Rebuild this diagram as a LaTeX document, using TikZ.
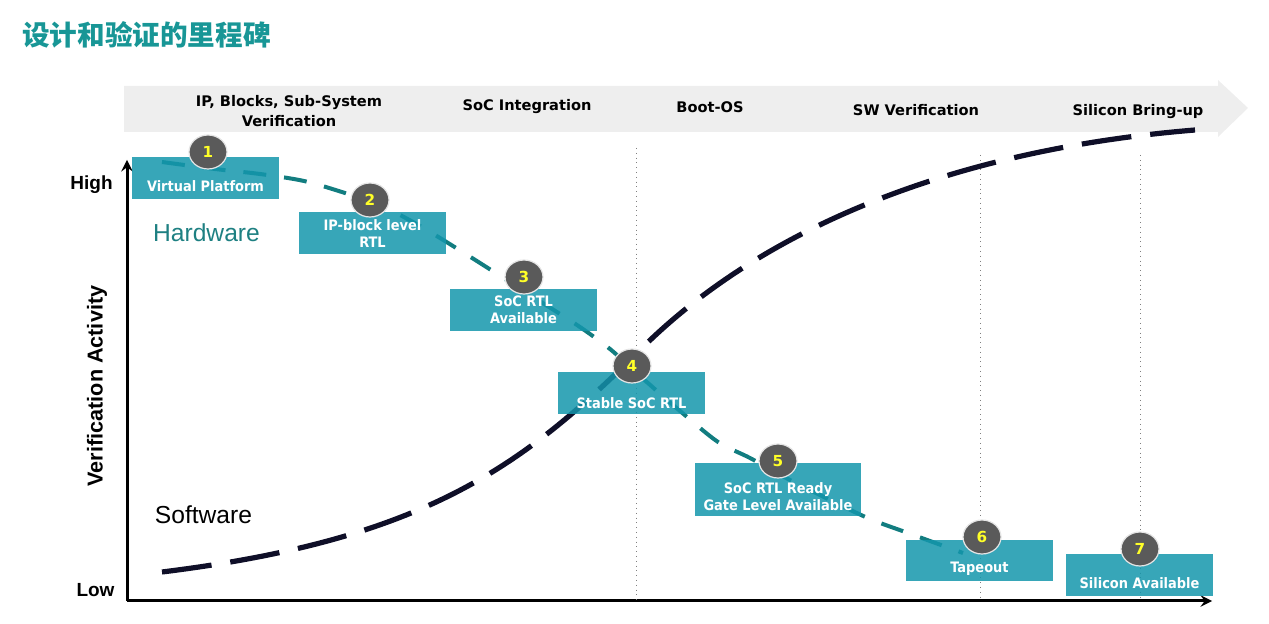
\documentclass[tikz,border=0pt]{standalone}
\usepackage{fontspec}
\usetikzlibrary{positioning,shapes.geometric,arrows,calc}

\newfontfamily\cjkfont{Noto Sans CJK SC}
\newfontfamily\phasefont{DejaVu Sans}
\newfontfamily\boxfont{DejaVu Sans Condensed}
\newfontfamily\axisfont{Liberation Sans}

\definecolor{titleteal}{RGB}{24,150,150}
\definecolor{hwteal}{RGB}{18,125,128}
\definecolor{hwtext}{RGB}{30,128,130}
\definecolor{boxteal}{RGB}{20,150,172}
\definecolor{swnavy}{RGB}{15,15,40}
\definecolor{bandgray}{RGB}{238,238,238}
\definecolor{circgray}{RGB}{90,90,90}
\definecolor{numyellow}{RGB}{255,255,40}

\begin{document}
\begin{tikzpicture}[x=0.5pt, y=-0.5pt,
    phase/.style={font=\phasefont\bfseries\fontsize{7.3}{10}\selectfont, align=center, inner sep=0pt},
    axis/.style={->, >=stealth, line width=1.5pt},
    axislabel/.style={font=\axisfont\bfseries\fontsize{9.5}{11}\selectfont, inner sep=0pt},
    hwsw/.style={font=\axisfont\fontsize{12.3}{14}\selectfont, inner sep=0pt},
    msbox/.style={rectangle, fill=boxteal, fill opacity=0.85, inner sep=0pt, minimum width=73.5pt, minimum height=21pt},
    boxtext/.style={text=white, font=\boxfont\bfseries\fontsize{7.2}{8.5}\selectfont, align=center, inner sep=0pt},
    msnum/.style={ellipse, fill=circgray, draw=white!80!gray, line width=0.6pt, minimum width=19pt, minimum height=17pt, inner sep=0pt, text=numyellow, font=\phasefont\bfseries\fontsize{7.6}{8}\selectfont},
    hwcurve/.style={hwteal, line width=2pt, dash pattern=on 11.5pt off 9pt},
    swcurve/.style={swnavy, line width=2.6pt, dash pattern=on 25pt off 9.5pt},
    phaseline/.style={gray, line width=0.4pt, dotted}
]
    \useasboundingbox (0,0) rectangle (1269,624);

    % title
    \node[anchor=west, inner sep=0pt, text=titleteal, font=\cjkfont\bfseries\fontsize{13.8}{16}\selectfont] (title) at (22,35) {设计和验证的里程碑};

    % phase band
    \fill[bandgray] (124,86) -- (1218,86) -- (1218,80) -- (1248,108) -- (1218,137) -- (1218,132) -- (124,132) -- cycle;
    \node[phase] (ipblocks) at (289,111) {IP, Blocks, Sub-System\\Verification};
    \node[phase] (socint) at (527,107) {SoC Integration};
    \node[phase] (bootos) at (710,107) {Boot-OS};
    \node[phase] (swverif) at (916,110) {SW Verification};
    \node[phase] (bringup) at (1138,112) {Silicon Bring-up};

    % axes
    \coordinate (origin) at (127,601);
    \coordinate (ytip) at (127,160);
    \coordinate (xtip) at (1212,601);
    \draw[axis] (origin) -- (ytip);
    \draw[axis] (origin) -- (xtip);
    \node[axislabel] (high) at (91.5,185) {High};
    \node[axislabel] (low) at (95.5,590) {Low};
    \node[axislabel, rotate=90, font=\axisfont\bfseries\fontsize{10.8}{12}\selectfont] (vact) at (97,386) {Verification Activity};
    \node[hwsw, text=hwtext] (hw) at (206.5,233) {Hardware};
    \node[hwsw] (sw) at (203.5,515) {Software};

    % phase borders
    \draw[phaseline] (636,148) -- (636,600);
    \draw[phaseline] (980,155) -- (980,600);
    \draw[phaseline] (1140,155) -- (1140,600);

    % curves
    \draw[swcurve] (162,572) .. controls (420,540) and (520,470) .. (640,350)
        .. controls (760,230) and (950,150) .. (1195,130);
    \draw[hwcurve] plot[smooth, tension=0.5] coordinates {(162,162) (215,169) (260,174) (304,181)
        (345,193) (380,205) (413,222) (440,238) (480,263) (530,295) (577,325) (610,349)
        (640,376) (680,411) (718,442) (750,458) (790,480) (830,500) (870,519) (908,533) (963,553)};

    % milestones
    \node[msbox] (vp) at (205.5,178) {};
    \node[msbox] (iprtl) at (372.5,233) {};
    \node[msbox] (socrtl) at (523.5,310) {};
    \node[msbox] (stable) at (631.5,393) {};
    \node[msbox, minimum width=83pt, minimum height=26.5pt] (gate) at (778,489.5) {};
    \node[msbox, minimum height=20.5pt] (tapeout) at (979.5,560.5) {};
    \node[msbox] (silicon) at (1139.5,575) {};

    \node[boxtext] (vptext) at (205.5,186) {Virtual Platform};
    \node[boxtext] (iprtltext) at (372.5,233.5) {IP-block level\\RTL};
    \node[boxtext] (socrtltext) at (523.5,310) {SoC RTL\\Available};
    \node[boxtext] (stabletext) at (631.5,403) {Stable SoC RTL};
    \node[boxtext] (gatetext) at (778,497) {SoC RTL Ready\\Gate Level Available};
    \node[boxtext] (tapeouttext) at (979.5,569) {Tapeout};
    \node[boxtext] (silicontext) at (1139.5,583) {Silicon Available};

    \node[msnum] (n1) at (208,152) {1};
    \node[msnum] (n2) at (370,200) {2};
    \node[msnum] (n3) at (524,277) {3};
    \node[msnum] (n4) at (632,366) {4};
    \node[msnum] (n5) at (778,461) {5};
    \node[msnum] (n6) at (982,537) {6};
    \node[msnum] (n7) at (1140,549) {7};
\end{tikzpicture}
\end{document}
